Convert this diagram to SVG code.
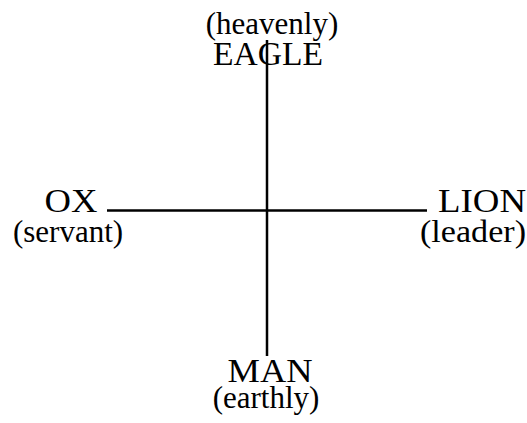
<svg xmlns="http://www.w3.org/2000/svg" width="527" height="423" viewBox="0 0 527 423">
<style>
.t{font-family:"Liberation Serif","Times New Roman",serif;font-size:33px;fill:#000;text-anchor:middle}
.s{font-family:"Liberation Serif","Times New Roman",serif;font-size:31px;fill:#000;text-anchor:middle}
.ln{stroke:#000;stroke-width:2.5;fill:none}
</style>
<rect width="527" height="423" fill="#fff"/>
<g id="connectors">
<line class="ln" x1="267" y1="40" x2="267" y2="356"/>
<line class="ln" x1="107" y1="210.5" x2="427" y2="210.5"/>
</g>
<g id="eagle">
<text class="s" x="272" y="34">(heavenly)</text>
<text class="t" x="268" y="65" textLength="110" lengthAdjust="spacingAndGlyphs">EAGLE</text>
</g>
<g id="ox">
<text class="t" x="71" y="212" textLength="53" lengthAdjust="spacingAndGlyphs">OX</text>
<text class="s" x="68" y="242">(servant)</text>
</g>
<g id="lion">
<text class="t" x="482" y="212" textLength="88" lengthAdjust="spacingAndGlyphs">LION</text>
<text class="s" x="473" y="242" textLength="106" lengthAdjust="spacingAndGlyphs">(leader)</text>
</g>
<g id="man">
<text class="t" x="270" y="382" textLength="85" lengthAdjust="spacingAndGlyphs">MAN</text>
<text class="s" x="266" y="408">(earthly)</text>
</g>
</svg>
